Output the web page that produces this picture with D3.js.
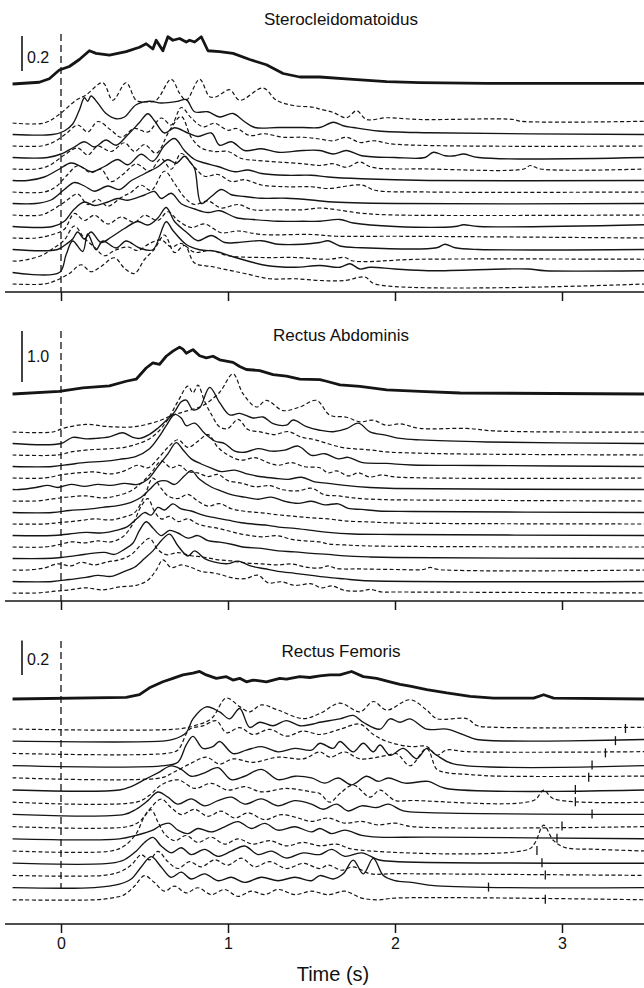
<!DOCTYPE html>
<html>
<head>
<meta charset="utf-8">
<script src="https://cdn.jsdelivr.net/npm/d3@7"></script>
<style>
  body { margin: 0; background: #fff; }
  text { font-family: "Liberation Sans", Arial, Helvetica, sans-serif; fill: #111; }
</style>
</head>
<body>
<script>
// ---- data (time in s, amplitude in the panel's units) ----
var xTicks = [0, 1, 2, 3];
var panelTitles = ["Sterocleidomatoidus", "Rectus Abdominis", "Rectus Femoris"];
var scaleBars = [0.2, 1.0, 0.2];

var scmMean = [[-0.29,0],[-0.13,0.01],[-0.07,0.03],[-0.01,0.08],[0.05,0.1],[0.11,0.14],[0.17,0.19],[0.21,0.175],[0.29,0.165],[0.39,0.185],[0.47,0.21],[0.51,0.23],[0.55,0.2],[0.57,0.25],[0.61,0.19],[0.64,0.27],[0.67,0.25],[0.71,0.26],[0.75,0.24],[0.77,0.25],[0.8,0.24],[0.84,0.27],[0.88,0.19],[0.95,0.185],[1.03,0.175],[1.13,0.14],[1.23,0.11],[1.33,0.06],[1.43,0.04],[1.55,0.04],[1.75,0.027],[1.95,0.013],[2.15,0.008],[2.55,0.004],[3.5,0.004]];

var scmTraces = [
  [[-0.29,0],[-0.1,0],[-0.01,0.05],[0.09,0.13],[0.15,0.16],[0.25,0.23],[0.31,0.13],[0.39,0.23],[0.45,0.13],[0.51,0.12],[0.57,0.13],[0.66,0.25],[0.71,0.17],[0.75,0.13],[0.83,0.25],[0.89,0.15],[0.93,0.15],[1.01,0.19],[1.07,0.13],[1.21,0.2],[1.29,0.13],[1.39,0.1],[1.51,0.09],[1.55,0.08],[1.63,0.06],[1.71,0.03],[1.77,0.07],[1.83,0.02],[1.95,0.03],[2.15,0.02],[2.71,0.02],[2.75,0.01],[3.5,0.01]],
  [[-0.29,0],[-0.05,0],[0.02,0.02],[0.07,0.06],[0.11,0.14],[0.14,0.21],[0.16,0.19],[0.18,0.22],[0.22,0.18],[0.27,0.12],[0.33,0.09],[0.38,0.1],[0.45,0.17],[0.53,0.19],[0.6,0.18],[0.7,0.19],[0.75,0.2],[0.8,0.13],[0.88,0.13],[0.95,0.1],[1.03,0.12],[1.09,0.08],[1.16,0.04],[1.3,0.04],[1.45,0.04],[1.55,0.04],[1.63,0.07],[1.69,0.05],[1.75,0.04],[1.9,0.02],[2.2,0.01],[3.5,0]],
  [[-0.29,0],[-0.12,0],[-0.05,0.02],[0.03,0.07],[0.1,0.12],[0.16,0.08],[0.22,0.14],[0.3,0.09],[0.36,0.05],[0.44,0.1],[0.52,0.08],[0.6,0.16],[0.66,0.12],[0.72,0.22],[0.78,0.16],[0.85,0.11],[0.92,0.13],[1.0,0.09],[1.05,0.1],[1.13,0.06],[1.22,0.07],[1.33,0.05],[1.45,0.05],[1.55,0.04],[1.63,0.03],[1.71,0.05],[1.79,0.02],[1.87,0.03],[2.0,0.01],[3.5,0]],
  [[-0.29,0],[-0.08,0],[0,0.02],[0.08,0.06],[0.14,0.09],[0.2,0.06],[0.27,0.1],[0.33,0.07],[0.4,0.13],[0.47,0.2],[0.52,0.25],[0.56,0.21],[0.62,0.14],[0.68,0.17],[0.76,0.14],[0.82,0.12],[0.9,0.14],[0.95,0.07],[1.02,0.09],[1.1,0.04],[1.2,0.05],[1.3,0.03],[1.45,0.04],[1.55,0.04],[1.63,0.02],[1.71,0.04],[1.8,0.01],[2.0,0],[2.18,0],[2.23,0.03],[2.3,0.01],[2.36,0.01],[2.41,0.02],[2.5,0],[3.5,0]],
  [[-0.29,0],[-0.15,0],[-0.07,0.02],[0.02,0.08],[0.1,0.12],[0.16,0.08],[0.22,0.13],[0.3,0.1],[0.38,0.15],[0.44,0.1],[0.5,0.14],[0.57,0.09],[0.65,0.22],[0.72,0.3],[0.78,0.18],[0.84,0.12],[0.92,0.1],[1.0,0.1],[1.08,0.06],[1.16,0.05],[1.3,0.04],[1.45,0.03],[1.55,0.02],[1.63,0.03],[1.71,0.01],[1.79,0.04],[1.86,0.01],[2.2,0],[2.77,0],[2.81,0.02],[2.87,0],[3.5,0]],
  [[-0.29,0],[-0.2,0],[-0.1,0.02],[-0.02,0.06],[0.06,0.1],[0.12,0.08],[0.18,0.05],[0.26,0.08],[0.34,0.12],[0.4,0.09],[0.48,0.15],[0.55,0.11],[0.62,0.2],[0.68,0.24],[0.74,0.17],[0.8,0.12],[0.86,0.1],[0.94,0.08],[1.04,0.05],[1.12,0.06],[1.2,0.04],[1.35,0.03],[1.5,0.03],[1.6,0.02],[1.8,0.01],[2.2,0],[3.5,0]],
  [[-0.29,0],[-0.1,0],[-0.03,0.03],[0.04,0.1],[0.1,0.15],[0.18,0.11],[0.24,0.13],[0.3,0.06],[0.37,0.1],[0.45,0.16],[0.53,0.12],[0.6,0.19],[0.66,0.13],[0.72,0.22],[0.8,0.14],[0.86,0.09],[0.94,0.1],[1.02,0.06],[1.1,0.07],[1.2,0.04],[1.35,0.03],[1.5,0.03],[1.6,0.02],[1.8,0.04],[1.88,0.01],[2.2,0],[3.5,0]],
  [[-0.29,0],[-0.15,0],[-0.06,0.02],[0.02,0.08],[0.08,0.12],[0.14,0.1],[0.2,0.07],[0.28,0.1],[0.35,0.08],[0.42,0.13],[0.5,0.17],[0.58,0.21],[0.64,0.25],[0.69,0.23],[0.74,0.27],[0.77,0.24],[0.8,0.2],[0.84,0.0],[0.9,0.04],[0.96,0.08],[1.02,0.05],[1.1,0.04],[1.2,0.03],[1.35,0.03],[1.5,0.02],[1.6,0.01],[2.0,0],[3.5,0]],
  [[-0.29,0],[-0.12,0],[-0.05,0.03],[0.03,0.08],[0.1,0.12],[0.16,0.06],[0.22,0.09],[0.28,0.05],[0.36,0.1],[0.42,0.13],[0.48,0.17],[0.54,0.14],[0.62,0.25],[0.68,0.18],[0.74,0.1],[0.8,0.06],[0.88,0.08],[0.96,0.04],[1.06,0.06],[1.15,0.03],[1.3,0.03],[1.45,0.03],[1.55,0.04],[1.65,0.03],[1.8,0.01],[2.0,0],[3.5,0]],
  [[-0.29,0],[-0.05,0],[0.02,0.03],[0.08,0.1],[0.14,0.14],[0.2,0.12],[0.28,0.14],[0.34,0.16],[0.4,0.15],[0.5,0.18],[0.56,0.2],[0.6,0.16],[0.66,0.19],[0.72,0.13],[0.8,0.1],[0.88,0.08],[0.95,0.09],[1.05,0.05],[1.15,0.04],[1.3,0.03],[1.45,0.03],[1.55,0.03],[1.67,0.04],[1.75,0.02],[2.0,0],[2.36,0],[2.41,0.01],[2.5,0],[3.5,0.01]],
  [[-0.29,0],[-0.15,0],[-0.05,0.02],[0.02,0.05],[0.08,0.14],[0.14,0.1],[0.2,0.13],[0.28,0.08],[0.36,0.12],[0.44,0.09],[0.5,0.13],[0.58,0.1],[0.64,0.15],[0.7,0.1],[0.78,0.06],[0.86,0.08],[0.96,0.03],[1.06,0.04],[1.2,0.02],[1.5,0.02],[1.65,0.01],[2.0,0.01],[3.5,0]],
  [[-0.29,0],[-0.02,0],[0.03,0.03],[0.07,0.06],[0.1,0.1],[0.14,0.06],[0.18,0.1],[0.24,0.04],[0.3,0.07],[0.38,0.12],[0.46,0.16],[0.52,0.14],[0.58,0.18],[0.63,0.24],[0.68,0.16],[0.75,0.1],[0.82,0.05],[0.9,0.08],[0.98,0.04],[1.06,0.04],[1.2,0.05],[1.3,0.03],[1.45,0.03],[1.55,0.04],[1.6,0.05],[1.67,0.02],[1.8,0.01],[2.25,0.01],[2.3,0.03],[2.36,0.01],[2.5,0],[3.5,0]],
  [[-0.29,0],[-0.25,0],[-0.12,0.03],[-0.05,0.07],[0.02,0.12],[0.08,0.2],[0.14,0.13],[0.2,0.08],[0.26,0.03],[0.32,0.06],[0.4,0.08],[0.46,0.06],[0.53,0.1],[0.6,0.12],[0.66,0.08],[0.72,0.1],[0.8,0.05],[0.9,0.06],[1.0,0.03],[1.2,0.02],[1.4,0.02],[1.6,0.01],[1.7,0.02],[1.75,0.0],[2.15,0.01],[3.5,0.01]],
  [[-0.29,0],[-0.01,0],[0.03,0.1],[0.07,0.18],[0.13,0.12],[0.16,0.22],[0.21,0.13],[0.25,0.18],[0.33,0.14],[0.39,0.18],[0.47,0.14],[0.55,0.13],[0.63,0.29],[0.67,0.24],[0.75,0.16],[0.83,0.13],[0.93,0.12],[1.03,0.09],[1.23,0.04],[1.4,0.03],[1.55,0.04],[1.67,0.03],[1.73,0.05],[1.79,0.02],[1.85,0.03],[2.0,0.02],[2.2,0.01],[2.66,0.02],[2.8,0.02],[2.9,0.01],[3.5,0.01]],
  [[-0.29,0],[-0.1,0],[-0.03,0.02],[0.05,0.06],[0.12,0.11],[0.18,0.07],[0.24,0.1],[0.32,0.15],[0.38,0.09],[0.44,0.06],[0.5,0.14],[0.56,0.2],[0.62,0.28],[0.68,0.18],[0.74,0.22],[0.8,0.12],[0.9,0.1],[1.0,0.08],[1.1,0.06],[1.25,0.03],[1.4,0.03],[1.55,0.02],[1.7,0.02],[1.82,0.04],[1.88,0.0],[3.5,0]]
];

var raMean = [[-0.29,0],[-0.01,0.05],[0.13,0.12],[0.29,0.16],[0.39,0.25],[0.45,0.29],[0.51,0.51],[0.55,0.61],[0.59,0.58],[0.63,0.74],[0.67,0.84],[0.71,0.92],[0.73,0.88],[0.75,0.8],[0.79,0.87],[0.83,0.75],[0.87,0.71],[0.91,0.74],[0.95,0.67],[1.03,0.62],[1.07,0.54],[1.11,0.48],[1.19,0.46],[1.27,0.38],[1.35,0.35],[1.43,0.29],[1.55,0.28],[1.59,0.25],[1.67,0.18],[1.79,0.15],[1.95,0.08],[2.15,0.05],[2.39,0.02],[3.5,0]];

var raTraces = [
  [[-0.29,0],[-0.05,0],[0.01,0.07],[0.15,0.15],[0.27,0.11],[0.43,0.1],[0.57,0.2],[0.67,0.33],[0.73,0.39],[0.85,0.52],[0.95,0.78],[1.03,1.14],[1.09,0.75],[1.17,0.49],[1.23,0.62],[1.33,0.42],[1.43,0.49],[1.53,0.62],[1.61,0.33],[1.71,0.29],[1.79,0.2],[1.87,0.23],[1.95,0.13],[2.03,0.16],[2.15,0.07],[2.43,0.07],[2.6,0.02],[3.5,0]],
  [[-0.29,0],[0,0],[0.07,0.12],[0.15,0.09],[0.21,0.1],[0.29,0.13],[0.37,0.21],[0.43,0.12],[0.47,0.1],[0.53,0.18],[0.58,0.3],[0.63,0.45],[0.68,0.62],[0.72,0.82],[0.75,0.85],[0.79,0.66],[0.83,0.7],[0.89,1.1],[0.95,0.8],[1.01,0.56],[1.07,0.59],[1.15,0.5],[1.21,0.52],[1.27,0.39],[1.35,0.36],[1.39,0.46],[1.47,0.33],[1.55,0.26],[1.63,0.23],[1.71,0.29],[1.78,0.4],[1.85,0.23],[1.95,0.16],[2.03,0.1],[2.15,0.07],[2.55,0.03],[3.5,0]],
  [[-0.29,0],[-0.02,0],[0.06,0.06],[0.16,0.1],[0.28,0.12],[0.38,0.15],[0.46,0.22],[0.52,0.3],[0.58,0.45],[0.64,0.7],[0.7,1.05],[0.76,1.35],[0.79,1.22],[0.82,1.37],[0.86,1.05],[0.9,0.8],[0.95,0.55],[1.0,0.52],[1.06,0.7],[1.12,0.5],[1.2,0.45],[1.28,0.4],[1.36,0.46],[1.44,0.35],[1.52,0.3],[1.6,0.22],[1.68,0.15],[1.76,0.12],[1.85,0.1],[1.95,0.06],[2.1,0.04],[2.4,0.02],[3.5,0]],
  [[-0.29,0],[-0.05,0],[0.05,0.04],[0.15,0.08],[0.25,0.1],[0.35,0.14],[0.45,0.2],[0.53,0.35],[0.58,0.55],[0.63,0.8],[0.68,1.02],[0.72,0.95],[0.75,0.8],[0.8,0.85],[0.86,0.65],[0.92,0.5],[0.98,0.45],[1.04,0.3],[1.1,0.28],[1.18,0.35],[1.26,0.3],[1.34,0.32],[1.42,0.4],[1.5,0.22],[1.58,0.25],[1.66,0.15],[1.72,0.18],[1.8,0.08],[1.95,0.06],[2.1,0.03],[2.5,0.02],[3.5,0]],
  [[-0.29,0],[-0.1,0],[0,0.06],[0.1,0.1],[0.2,0.12],[0.3,0.08],[0.38,0.14],[0.46,0.25],[0.52,0.2],[0.58,0.38],[0.64,0.6],[0.7,0.75],[0.76,0.6],[0.82,0.72],[0.88,0.85],[0.94,0.6],[1.0,0.45],[1.08,0.35],[1.16,0.4],[1.24,0.3],[1.3,0.25],[1.38,0.3],[1.46,0.22],[1.55,0.2],[1.6,0.1],[1.65,0.14],[1.72,0.04],[1.78,0.1],[1.85,0.02],[1.92,0.06],[2.0,0.02],[3.5,0]],
  [[-0.29,0],[-0.25,0],[-0.15,0.04],[-0.08,0.08],[-0.02,0.04],[0.06,0.1],[0.14,0.06],[0.22,0.1],[0.3,0.08],[0.38,0.12],[0.46,0.1],[0.52,0.2],[0.58,0.45],[0.64,0.7],[0.69,0.92],[0.73,0.78],[0.78,0.6],[0.84,0.5],[0.9,0.42],[0.96,0.35],[1.04,0.38],[1.12,0.3],[1.2,0.25],[1.28,0.22],[1.36,0.2],[1.44,0.24],[1.52,0.15],[1.6,0.12],[1.7,0.08],[1.85,0.04],[2.0,0.02],[3.5,0]],
  [[-0.29,0],[-0.15,0],[-0.05,0.04],[0.05,0.08],[0.15,0.1],[0.25,0.06],[0.33,0.1],[0.42,0.2],[0.48,0.35],[0.54,0.55],[0.6,0.78],[0.66,0.65],[0.71,0.7],[0.76,0.58],[0.82,0.55],[0.88,0.48],[0.94,0.52],[1.0,0.4],[1.08,0.35],[1.16,0.28],[1.25,0.3],[1.33,0.22],[1.42,0.2],[1.5,0.25],[1.58,0.12],[1.66,0.1],[1.75,0.06],[1.9,0.03],[2.1,0.02],[3.5,0]],
  [[-0.29,0],[-0.05,0],[0.05,0.04],[0.15,0.06],[0.25,0.1],[0.35,0.14],[0.42,0.2],[0.48,0.3],[0.53,0.45],[0.58,0.6],[0.63,0.62],[0.68,0.55],[0.74,0.72],[0.78,0.82],[0.83,0.65],[0.9,0.5],[0.96,0.42],[1.02,0.35],[1.1,0.3],[1.18,0.26],[1.26,0.3],[1.34,0.22],[1.42,0.18],[1.5,0.22],[1.58,0.15],[1.66,0.17],[1.72,0.08],[1.8,0.06],[1.9,0.03],[2.1,0.02],[3.5,0]],
  [[-0.29,0],[-0.1,0],[0,0.03],[0.1,0.06],[0.2,0.1],[0.3,0.08],[0.38,0.14],[0.44,0.22],[0.5,0.55],[0.55,0.9],[0.6,0.7],[0.64,0.55],[0.7,0.5],[0.76,0.58],[0.82,0.45],[0.88,0.35],[0.95,0.4],[1.02,0.3],[1.1,0.25],[1.2,0.22],[1.3,0.18],[1.4,0.15],[1.5,0.12],[1.6,0.1],[1.7,0.06],[1.85,0.04],[2.0,0.02],[3.5,0]],
  [[-0.29,0],[-0.05,0],[0.05,0.03],[0.15,0.06],[0.25,0.05],[0.33,0.1],[0.4,0.18],[0.46,0.35],[0.5,0.45],[0.54,0.4],[0.58,0.55],[0.62,0.5],[0.67,0.62],[0.72,0.52],[0.78,0.48],[0.85,0.4],[0.92,0.35],[1.0,0.3],[1.08,0.25],[1.16,0.22],[1.24,0.2],[1.32,0.16],[1.4,0.14],[1.5,0.1],[1.6,0.06],[1.75,0.03],[2.0,0.02],[3.5,0]],
  [[-0.29,0],[-0.1,0],[-0.02,0.04],[0.06,0.1],[0.14,0.08],[0.22,0.12],[0.3,0.1],[0.37,0.2],[0.43,0.45],[0.48,0.8],[0.52,0.95],[0.56,0.7],[0.6,0.55],[0.65,0.6],[0.7,0.5],[0.76,0.55],[0.82,0.45],[0.88,0.4],[0.95,0.36],[1.02,0.3],[1.1,0.24],[1.2,0.2],[1.3,0.22],[1.38,0.15],[1.46,0.12],[1.55,0.1],[1.6,0.06],[1.7,0.04],[1.85,0.02],[3.5,0]],
  [[-0.29,0],[-0.1,0],[0,0.02],[0.1,0.06],[0.18,0.1],[0.26,0.12],[0.32,0.08],[0.38,0.18],[0.43,0.3],[0.47,0.55],[0.51,0.72],[0.55,0.6],[0.6,0.45],[0.65,0.55],[0.7,0.5],[0.76,0.4],[0.82,0.45],[0.88,0.35],[0.95,0.32],[1.02,0.28],[1.1,0.22],[1.2,0.2],[1.3,0.15],[1.4,0.13],[1.5,0.1],[1.6,0.08],[1.7,0.05],[1.85,0.03],[2.0,0.02],[3.5,0]],
  [[-0.29,0],[-0.2,0],[-0.1,0.04],[-0.02,0.12],[0.06,0.08],[0.12,0.15],[0.2,0.1],[0.28,0.16],[0.35,0.2],[0.42,0.3],[0.48,0.5],[0.53,0.62],[0.58,0.4],[0.63,0.3],[0.7,0.34],[0.78,0.28],[0.86,0.25],[0.94,0.2],[1.02,0.18],[1.1,0.14],[1.2,0.12],[1.3,0.1],[1.38,0.12],[1.46,0.06],[1.55,0.04],[1.6,0.08],[1.65,0.03],[1.8,0.02],[2.0,0.01],[2.17,0.01],[2.21,0.05],[2.26,0.01],[3.5,0]],
  [[-0.29,0],[-0.05,0],[0.05,0.04],[0.15,0.08],[0.22,0.12],[0.3,0.1],[0.38,0.2],[0.44,0.28],[0.5,0.45],[0.55,0.6],[0.6,0.8],[0.65,0.93],[0.7,0.7],[0.76,0.5],[0.8,0.6],[0.86,0.45],[0.92,0.38],[1.0,0.35],[1.06,0.4],[1.14,0.3],[1.22,0.25],[1.3,0.2],[1.4,0.16],[1.5,0.12],[1.6,0.08],[1.7,0.05],[1.8,0.02],[3.5,0]],
  [[-0.29,0],[-0.15,0],[-0.05,0.03],[0.05,0.06],[0.15,0.1],[0.25,0.06],[0.35,0.12],[0.45,0.15],[0.52,0.25],[0.57,0.45],[0.61,0.65],[0.66,0.5],[0.72,0.55],[0.78,0.5],[0.84,0.42],[0.9,0.4],[0.96,0.36],[1.02,0.3],[1.1,0.28],[1.18,0.35],[1.24,0.2],[1.32,0.22],[1.4,0.15],[1.5,0.18],[1.56,0.1],[1.62,0.14],[1.7,0.05],[1.8,0.04],[1.85,0.07],[1.92,0.02],[2.0,0.02],[3.5,0]]
];

var rfMean = [[-0.29,0],[0.39,0.01],[0.47,0.025],[0.53,0.065],[0.61,0.1],[0.67,0.12],[0.73,0.14],[0.79,0.15],[0.83,0.16],[0.87,0.14],[0.93,0.12],[0.99,0.13],[1.03,0.11],[1.07,0.12],[1.11,0.1],[1.15,0.11],[1.19,0.105],[1.23,0.1],[1.27,0.11],[1.31,0.12],[1.35,0.115],[1.43,0.13],[1.49,0.125],[1.55,0.135],[1.61,0.14],[1.67,0.14],[1.74,0.16],[1.81,0.13],[1.89,0.12],[1.97,0.1],[2.03,0.085],[2.09,0.075],[2.19,0.055],[2.31,0.035],[2.45,0.015],[2.59,0.005],[2.83,0.005],[2.89,0.025],[2.95,0.005],[3.5,0]];

var rfTraces = [
  [[-0.29,0],[0.7,0],[0.8,0.02],[0.9,0.06],[0.99,0.18],[1.07,0.13],[1.13,0.1],[1.2,0.14],[1.3,0.11],[1.45,0.06],[1.55,0.09],[1.67,0.15],[1.79,0.1],[1.87,0.16],[1.95,0.11],[2.09,0.17],[2.19,0.11],[2.25,0.06],[2.43,0.06],[2.49,0.02],[2.6,0.01],[3.5,0.01]],
  [[-0.29,0],[0.6,0],[0.67,0.01],[0.75,0.05],[0.79,0.13],[0.87,0.2],[0.95,0.17],[1.01,0.13],[1.07,0.19],[1.13,0.08],[1.19,0.11],[1.27,0.09],[1.35,0.12],[1.43,0.09],[1.51,0.1],[1.55,0.11],[1.67,0.13],[1.75,0.15],[1.81,0.11],[1.91,0.07],[1.97,0.13],[2.03,0.11],[2.09,0.13],[2.19,0.07],[2.31,0.07],[2.43,0.03],[2.49,0.01],[3.5,0.01]],
  [[-0.29,0],[0.63,0],[0.7,0.02],[0.77,0.14],[0.85,0.16],[0.93,0.19],[0.99,0.12],[1.07,0.15],[1.15,0.11],[1.25,0.14],[1.35,0.1],[1.45,0.13],[1.55,0.11],[1.67,0.14],[1.79,0.17],[1.87,0.11],[1.95,0.07],[2.09,0.04],[2.19,0.04],[2.25,-0.01],[2.31,0.02],[2.43,0.01],[3.5,0.01]],
  [[-0.29,0],[0.62,0],[0.7,0.02],[0.75,0.12],[0.79,0.17],[0.85,0.1],[0.91,0.11],[0.95,0.14],[1.03,0.07],[1.11,0.09],[1.2,0.11],[1.3,0.08],[1.4,0.1],[1.5,0.09],[1.55,0.13],[1.63,0.1],[1.67,0.14],[1.75,0.08],[1.81,0.13],[1.87,0.08],[1.91,0.12],[1.97,0.06],[2.05,0.1],[2.13,0.04],[2.19,0.1],[2.25,0.06],[2.35,0.01],[3.5,0]],
  [[-0.29,0],[0.6,0],[0.67,0.03],[0.77,0.08],[0.87,0.12],[0.95,0.08],[1.03,0.11],[1.15,0.09],[1.3,0.12],[1.45,0.11],[1.55,0.15],[1.61,0.12],[1.7,0.15],[1.79,0.11],[1.95,0.13],[2.01,0.14],[2.09,0.07],[2.19,0.17],[2.25,0.05],[2.31,0.03],[2.43,0.02],[2.6,0.01],[3.5,0.01]],
  [[-0.29,0],[0.35,0],[0.42,0.02],[0.5,0.06],[0.58,0.1],[0.66,0.14],[0.72,0.12],[0.78,0.08],[0.86,0.1],[0.94,0.13],[1.02,0.06],[1.1,0.08],[1.2,0.12],[1.3,0.06],[1.4,0.08],[1.5,0.07],[1.58,0.04],[1.66,0.07],[1.74,0.03],[1.83,0.08],[1.9,0.05],[1.96,0.07],[2.06,0.04],[2.2,0.05],[2.3,0.01],[3.5,0]],
  [[-0.29,0],[0.45,0],[0.53,0.04],[0.6,0.1],[0.7,0.13],[0.8,0.08],[0.9,0.11],[1.0,0.07],[1.1,0.09],[1.2,0.06],[1.35,0.08],[1.5,0.06],[1.55,0.05],[1.61,0.0],[1.67,0.05],[1.75,0.1],[1.85,0.03],[1.91,0.07],[2.0,0.01],[2.1,0.01],[2.83,0.01],[2.89,0.07],[2.95,0.02],[3.5,0]],
  [[-0.29,0],[0.38,0],[0.45,0.03],[0.52,0.08],[0.58,0.13],[0.64,0.1],[0.7,0.06],[0.78,0.09],[0.86,0.05],[0.94,0.08],[1.02,0.1],[1.1,0.06],[1.2,0.09],[1.3,0.05],[1.4,0.08],[1.5,0.06],[1.57,0.03],[1.65,0.06],[1.72,0.02],[1.8,0.05],[1.89,0.04],[1.96,0.06],[2.05,0.02],[2.2,0.01],[3.5,0]],
  [[-0.29,0],[0.4,0],[0.47,0.03],[0.53,0.1],[0.6,0.16],[0.66,0.11],[0.72,0.07],[0.8,0.1],[0.88,0.06],[0.96,0.09],[1.04,0.05],[1.12,0.08],[1.22,0.04],[1.32,0.07],[1.42,0.05],[1.5,0.03],[1.6,0.05],[1.7,0.02],[1.8,0.03],[1.9,0.01],[2.0,0.02],[2.1,0],[3.5,0]],
  [[-0.29,0],[0.35,0],[0.45,0.02],[0.55,0.05],[0.6,0.08],[0.65,0.09],[0.7,0.05],[0.76,0.03],[0.82,0.06],[0.9,0.04],[0.98,0.07],[1.06,0.1],[1.14,0.06],[1.22,0.09],[1.3,0.05],[1.4,0.07],[1.5,0.04],[1.55,0.06],[1.62,0.03],[1.7,0.05],[1.8,0.02],[1.9,0.01],[2.2,0.01],[3.5,0]],
  [[-0.29,0],[0.3,0],[0.38,0.03],[0.45,0.1],[0.5,0.2],[0.54,0.24],[0.58,0.17],[0.62,0.1],[0.68,0.06],[0.75,0.09],[0.82,0.05],[0.9,0.08],[0.98,0.04],[1.06,0.07],[1.15,0.04],[1.25,0.06],[1.35,0.03],[1.45,0.05],[1.55,0.03],[1.65,0.04],[1.75,0.01],[2.8,0.01],[2.84,0.05],[2.89,0.15],[2.95,0.06],[3.02,0.02],[3.2,0.01],[3.5,0]],
  [[-0.29,0],[0.3,0],[0.38,0.02],[0.45,0.07],[0.5,0.12],[0.55,0.15],[0.6,0.1],[0.66,0.06],[0.72,0.09],[0.78,0.05],[0.86,0.08],[0.94,0.04],[1.02,0.07],[1.1,0.1],[1.18,0.05],[1.26,0.07],[1.35,0.03],[1.45,0.06],[1.55,0.05],[1.62,0.08],[1.7,0.04],[1.8,0.06],[1.9,0.02],[2.0,0.01],[3.5,0]],
  [[-0.29,0],[0.25,0],[0.35,0.02],[0.42,0.06],[0.48,0.12],[0.53,0.09],[0.58,0.14],[0.64,0.08],[0.7,0.04],[0.77,0.08],[0.84,0.05],[0.92,0.09],[1.0,0.06],[1.08,0.1],[1.16,0.05],[1.25,0.08],[1.35,0.04],[1.45,0.07],[1.55,0.04],[1.6,0.06],[1.68,0.03],[1.75,0.05],[1.85,0.01],[2.0,0.01],[3.5,0]],
  [[-0.29,0],[0.2,0],[0.35,0.02],[0.42,0.05],[0.48,0.12],[0.54,0.18],[0.6,0.12],[0.66,0.06],[0.72,0.09],[0.78,0.05],[0.86,0.08],[0.94,0.04],[1.02,0.06],[1.1,0.03],[1.2,0.06],[1.3,0.04],[1.4,0.06],[1.5,0.04],[1.55,0.07],[1.63,0.05],[1.69,0.08],[1.75,0.16],[1.81,0.08],[1.87,0.17],[1.93,0.07],[2.0,0.04],[2.1,0.03],[2.25,0.01],[3.5,0]],
  [[-0.29,0],[0.2,0],[0.3,0.01],[0.38,0.03],[0.44,0.08],[0.5,0.14],[0.56,0.1],[0.62,0.05],[0.68,0.08],[0.75,0.04],[0.82,0.07],[0.9,0.03],[0.98,0.06],[1.06,0.02],[1.14,0.05],[1.22,0.03],[1.3,0.06],[1.4,0.03],[1.5,0.05],[1.6,0.03],[1.7,0.05],[1.8,0.01],[1.9,0.0],[2.0,0.01],[3.5,0]]
];

// event marks on the Rectus Femoris traces (s), one per trace
var rfMarks = [3.38, 3.32, 3.26, 3.18, 3.16, 3.08, 3.08, 3.18, 3.0, 2.97, 2.85, 2.88, 2.9, 2.56, 2.9];

// ---- layout ----
var width = 644, height = 988, ink = "#151515";

var panels = [
  {title: panelTitles[0], mean: scmMean, traces: scmTraces, bar: scaleBars[0], pxPerUnit: 175,
   titleY: 25, meanBase: 84, base0: 123, step: 11.5, axisY: 292, barBottom: 71, labelY: 63, zeroTop: 34, zeroBottom: 292},
  {title: panelTitles[1], mean: raMean, traces: raTraces, bar: scaleBars[1], pxPerUnit: 51,
   titleY: 341, meanBase: 394, base0: 432, step: 11.5, axisY: 601, barBottom: 382, labelY: 362, zeroTop: 331, zeroBottom: 601},
  {title: panelTitles[2], mean: rfMean, traces: rfTraces, bar: scaleBars[2], pxPerUnit: 172, marks: rfMarks,
   titleY: 657, meanBase: 699, base0: 729, step: 12.2, axisY: 924, barBottom: 675, labelY: 665, zeroTop: 641, zeroBottom: 888}
];

var svg = d3.select("body").append("svg")
  .attr("width", width)
  .attr("height", height);

var x = d3.scaleLinear().domain([0, 1]).range([61, 228]);

panels.forEach(function (p, pi) {
  var g = svg.append("g");
  var y = d3.scaleLinear().domain([0, 1]).range([0, -p.pxPerUnit]);
  var line = d3.line()
    .x(function (d) { return x(d[0]); })
    .y(function (d) { return y(d[1]); })
    .curve(d3.curveCatmullRom.alpha(0.5));

  // title
  g.append("text")
    .attr("x", 341).attr("y", p.titleY)
    .attr("text-anchor", "middle")
    .attr("font-size", 17)
    .text(p.title);

  // dashed line at t = 0
  g.append("line")
    .attr("x1", x(0)).attr("x2", x(0))
    .attr("y1", p.zeroTop).attr("y2", p.zeroBottom)
    .attr("stroke", ink).attr("stroke-width", 1.3)
    .attr("stroke-dasharray", "7,4");

  // scale bar
  g.append("line")
    .attr("x1", 22).attr("x2", 22)
    .attr("y1", p.barBottom).attr("y2", p.barBottom + y(p.bar))
    .attr("stroke", ink).attr("stroke-width", 1.6);
  g.append("text")
    .attr("x", 27).attr("y", p.labelY)
    .attr("font-size", 16)
    .text(d3.format(".1f")(p.bar));

  // single trials
  p.traces.forEach(function (tr, k) {
    var base = p.base0 + k * p.step;
    g.append("path")
      .attr("transform", "translate(0," + base + ")")
      .attr("d", line(tr))
      .attr("fill", "none")
      .attr("stroke", ink)
      .attr("stroke-width", k % 2 === 0 ? 1.2 : 1.35)
      .attr("stroke-dasharray", k % 2 === 0 ? "4,2.5" : null);
    if (p.marks) {
      g.append("line")
        .attr("x1", x(p.marks[k])).attr("x2", x(p.marks[k]))
        .attr("y1", base - 5).attr("y2", base + 4)
        .attr("stroke", ink).attr("stroke-width", 1.3);
    }
  });

  // average
  g.append("path")
    .attr("transform", "translate(0," + p.meanBase + ")")
    .attr("d", line.curve(d3.curveLinear)(p.mean))
    .attr("fill", "none")
    .attr("stroke", ink)
    .attr("stroke-width", 2.8)
    .attr("stroke-linejoin", "round");

  // time axis
  var last = pi === panels.length - 1;
  var axis = d3.axisBottom(x)
    .tickValues(xTicks)
    .tickSize(9)
    .tickSizeOuter(0)
    .tickPadding(5)
    .tickFormat(last ? d3.format("d") : "");
  var ax = g.append("g")
    .attr("transform", "translate(0," + p.axisY + ")")
    .call(axis);
  ax.select(".domain").attr("d", "M5,0H644").attr("stroke", ink).attr("stroke-width", 1.6);
  ax.selectAll(".tick line").attr("stroke", ink).attr("stroke-width", 1.5);
  ax.selectAll(".tick text").attr("font-size", 16).attr("font-family", "Liberation Sans, Arial, sans-serif").attr("fill", ink);
});

svg.append("text")
  .attr("x", 333).attr("y", 981)
  .attr("text-anchor", "middle")
  .attr("font-size", 20)
  .text("Time (s)");
</script>
</body>
</html>
